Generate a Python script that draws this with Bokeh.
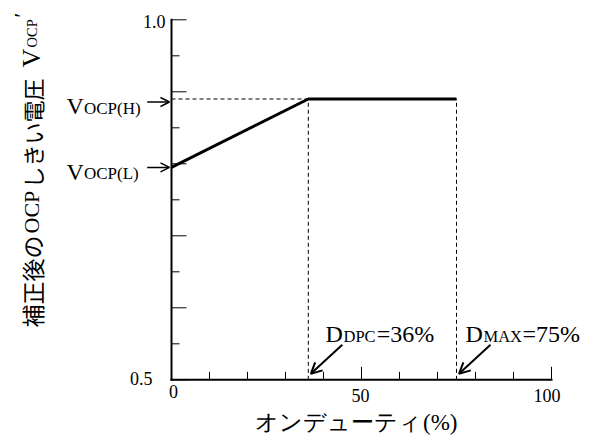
import math
from bokeh.plotting import figure
from bokeh.models import Range1d, Label, Arrow, OpenHead
from bokeh.embed import file_html
from bokeh.resources import INLINE

# ---- data ----
duty = [0, 36, 75]                 # on-duty (%)
vocp = [0.795, 0.89, 0.89]         # corrected OCP threshold (relative)
D_DPC = 36
D_MAX = 75
V_L = 0.795
V_H = 0.89
x_major = [0, 50, 100]
x_minor = [10, 20, 30, 40, 60, 70, 80, 90]
y_major = [0.5, 0.6, 0.7, 0.8, 0.9, 1.0]
y_minor = [0.55, 0.65, 0.75, 0.85, 0.95]
x_tick_labels = ["0", "50", "100"]
y_tick_values = [0.5, 1.0]
y_tick_labels = ["0.5", "1.0"]
x_title = ["オンデューティ", "(%)"]
y_title = ["補正後の", "OCP", "しきい電圧"]

SERIF = "Liberation Serif"
CJK = "Noto Sans CJK JP"
W, H = 589, 435
X0, X1, Y0, Y1 = 0, 100, 0.5, 1.0
LEFT, BOTTOM = 171, 379.3          # pixel position of the axes origin
FW, FH = 380, 360                  # axes box size in px
XS = FW / (X1 - X0)                # px per x unit
YS = FH / (Y1 - Y0)                # px per y unit

p = figure(width=W, height=H, output_backend="svg", toolbar_location=None, title=None,
           x_axis_location=None, y_axis_location=None,
           x_range=Range1d(X0 - LEFT / XS, X0 + (W - LEFT) / XS),
           y_range=Range1d(Y0 - (H - BOTTOM) / YS, Y0 + BOTTOM / YS),
           min_border=0)
p.outline_line_color = None
p.grid.visible = False
p.background_fill_color = "white"
p.border_fill_color = "white"

# axes lines
p.segment(x0=[X0, X0], y0=[Y0, Y0], x1=[X0, X1], y1=[Y1, Y0],
          line_color="black", line_width=2, line_cap="square")
# ticks (pointing inward)
p.segment(x0=x_major, y0=[Y0] * len(x_major), x1=x_major, y1=[Y0 + 13 / YS] * len(x_major),
          line_color="black", line_width=1)
p.segment(x0=x_minor, y0=[Y0] * len(x_minor), x1=x_minor, y1=[Y0 + 8 / YS] * len(x_minor),
          line_color="black", line_width=1)
p.segment(x0=[X0] * len(y_major), y0=y_major, x1=[X0 + 15 / XS] * len(y_major), y1=y_major,
          line_color="black", line_width=1)
p.segment(x0=[X0] * len(y_minor), y0=y_minor, x1=[X0 + 8 / XS] * len(y_minor), y1=y_minor,
          line_color="black", line_width=1)

# dashed guides
p.segment(x0=[X0, D_DPC, D_MAX], y0=[V_H, Y0, Y0], x1=[D_DPC, D_DPC, D_MAX], y1=[V_H, V_H, V_H],
          line_color="black", line_width=1, line_dash="4 3")
# main characteristic
p.line(duty, vocp, line_color="black", line_width=3)


def lab(x, y, text, size, dx, dy, align="left", baseline="alphabetic", angle=0.0, font=SERIF):
    p.add_layout(Label(x=x, y=y, text=text, x_offset=dx, y_offset=dy,
                       text_font=font, text_font_size=f"{size}px",
                       text_align=align, text_baseline=baseline, angle=angle,
                       text_color="black"))


# tick labels
lab(X0, y_tick_values[1], y_tick_labels[1], 18, -6, -2, "right", "middle")
lab(X0, y_tick_values[0], y_tick_labels[0], 18, -19, 1, "right", "middle")
for v, t, dx, dy in zip(x_major, x_tick_labels, [2, -1, -4.5], [-12, -16, -16]):
    lab(v, Y0, t, 18, dx, dy, "center", "middle")

# x axis title
lab(50, Y0, x_title[0], 23, 60.5, -42.2, "right", "middle")
lab(50, Y0, x_title[1], 23, 61.5, -42.2, "left", "middle")

# y axis title (rotated)
ang = math.pi / 2
YT = -140
lab(X0, Y0, y_title[0], 23, YT, 52.3, angle=ang, font=CJK)
lab(X0, Y0, y_title[1], 22, YT, 146.3, angle=ang)
lab(X0, Y0, y_title[2], 22, YT, 191.3, angle=ang, font=CJK)
lab(X0, Y0, "V", 26, YT, 312.3, angle=ang)
lab(X0, Y0, "OCP", 14.5, YT, 332.3, angle=ang)
lab(X0, Y0, "\u2032", 22, YT - 10, 362.3, angle=ang)

# V_OCP(H), V_OCP(L) labels with arrows
for v, sub, dyv, dys, dya in ((V_H, "OCP(H)", -6.5, -9.5, -3), (V_L, "OCP(L)", -4.8, -6.4, 0)):
    lab(X0, v, "V", 24, -105, dyv)
    lab(X0, v, sub, 17, -87.5, dys)
    p.add_layout(Arrow(end=OpenHead(size=9, line_width=1.5, line_color="black"),
                       x_start=X0 - 24.3 / XS, y_start=v + dya / YS,
                       x_end=X0 - 2 / XS, y_end=v + dya / YS,
                       line_width=1.5, line_color="black"))

# D_DPC, D_MAX labels with arrows
for d, sub, val, dx0, dxs, dxv in ((D_DPC, "DPC", "=36%", 17.2, 35.2, 68.5),
                                   (D_MAX, "MAX", "=75%", 9, 27, 66)):
    lab(d, Y0, "D", 24, dx0, 46.3)
    lab(d, Y0, sub, 16.5, dxs, 43.8)
    lab(d, Y0, val, 24, dxv, 46.3)
    p.add_layout(Arrow(end=OpenHead(size=11, line_width=2, line_color="black"),
                       x_start=d + 34 / XS, y_start=Y0 + 35 / YS,
                       x_end=d + 2.5 / XS, y_end=Y0 + 6 / YS,
                       line_width=2, line_color="black"))

open("out.html", "w").write(file_html(p, INLINE))
